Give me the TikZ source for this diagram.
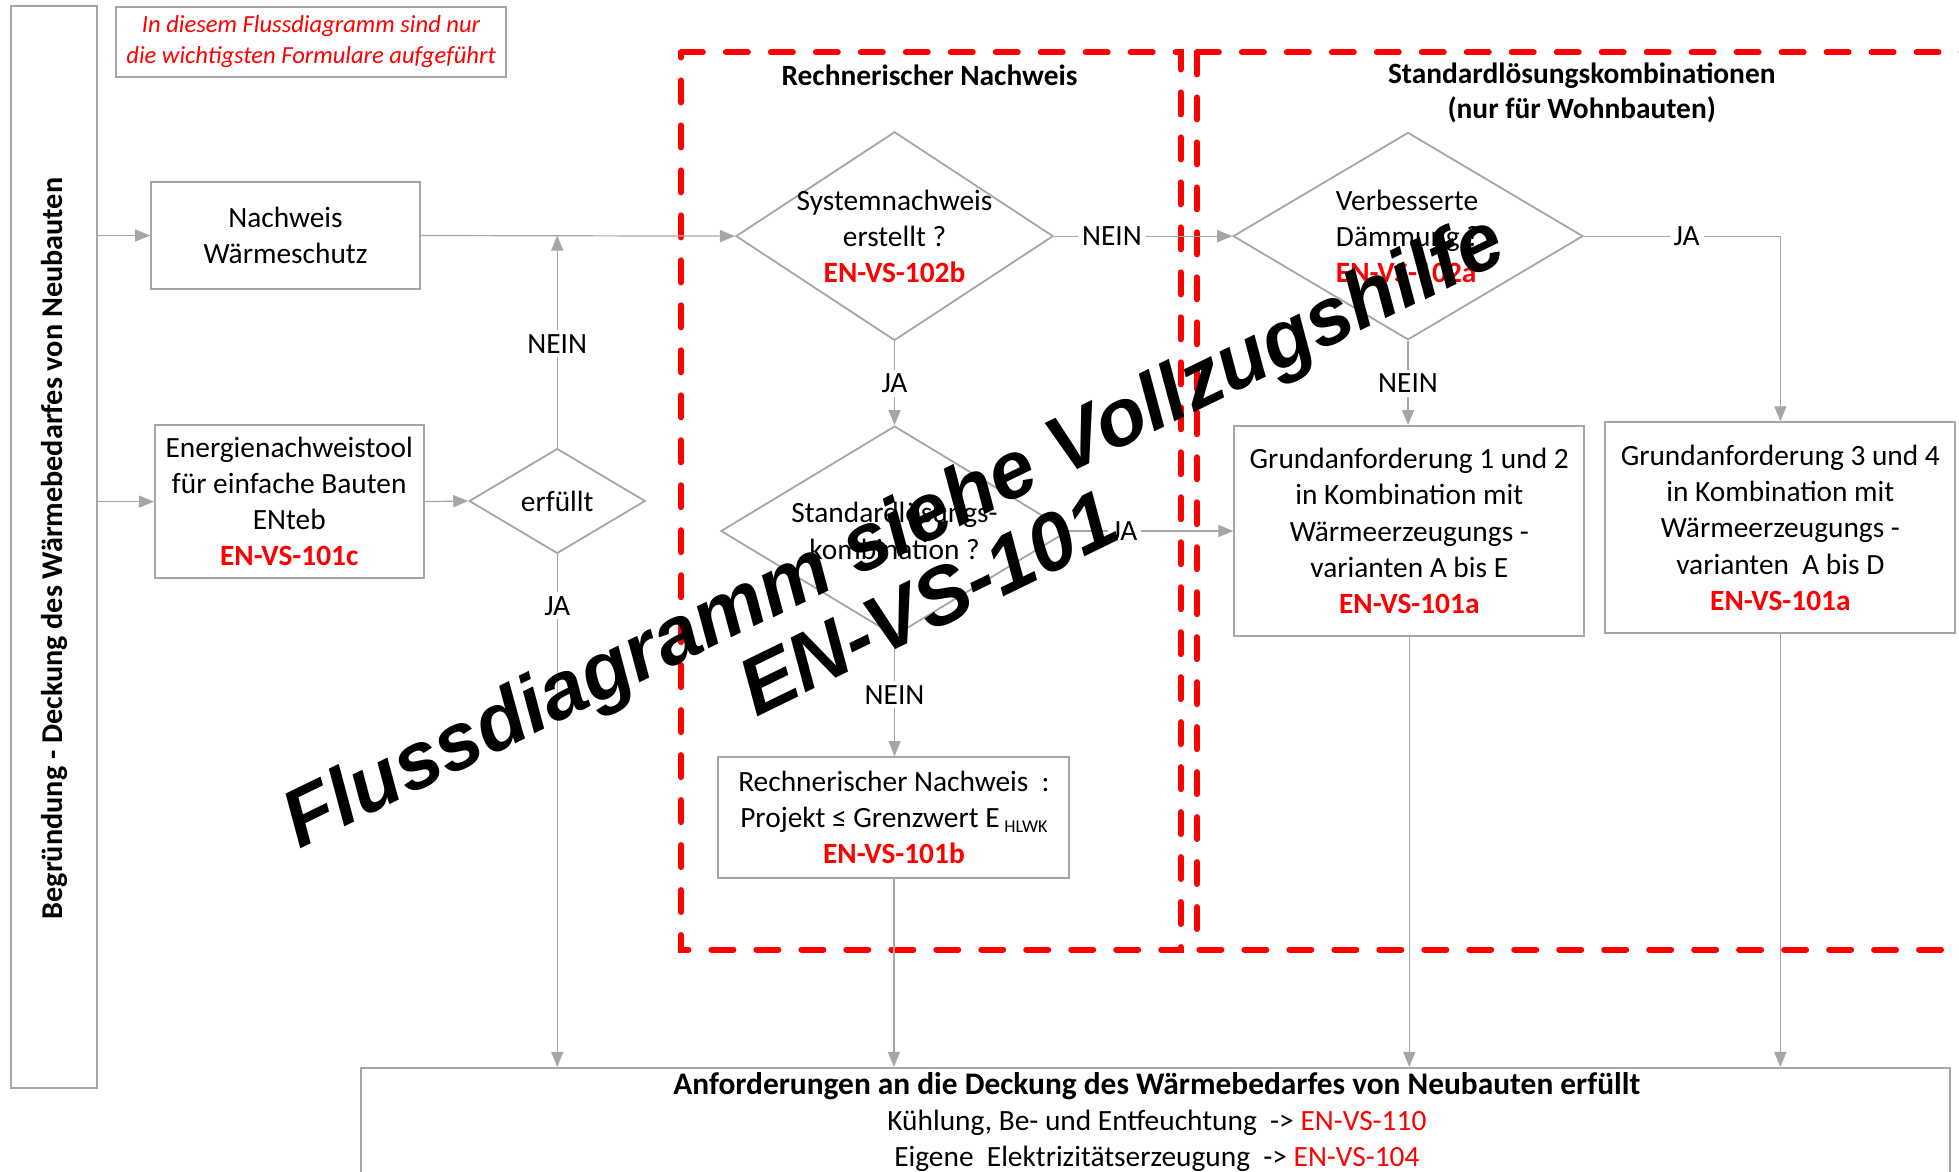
\documentclass[tikz,border=0pt]{standalone}
\usepackage{fontspec}
\setmainfont{Carlito}
\newfontfamily\wmfont{Liberation Sans}
\usetikzlibrary{arrows.meta,shapes.geometric}
\definecolor{lg}{HTML}{A6A6A6}
\definecolor{rd}{HTML}{FF0000}
\newcommand\bodyfs{\fontsize{14.7}{18.1}\selectfont}
\newcommand\enref[1]{\textcolor{rd}{\bfseries #1}}
\begin{document}
\begin{tikzpicture}[x=0.625pt,y=-0.625pt,
  box/.style={draw=lg,line width=1pt,inner sep=0pt,align=center,font=\bodyfs},
  dia/.style={draw=lg,line width=0.9pt,diamond,inner sep=0pt},
  dtext/.style={align=center,font=\bodyfs,inner sep=0pt},
  conn/.style={draw=lg,line width=0.6pt},
  arr/.style={conn,-{Triangle[length=7.5pt,width=6pt,fill=lg]}},
  lbl/.style={fill=white,inner sep=2pt,font=\bodyfs},
  reddash/.style={draw=rd,line width=3pt,dash pattern=on 11pt off 11.5pt,line cap=round}
]
\useasboundingbox (0,0) rectangle (1568,938);
\fill[white] (0,0) rectangle (1568,938);

% red dashed frames
\draw[reddash] (545,42) -- (945,42) -- (945,760) -- (545,760) -- cycle;
\draw[reddash] (958,42) -- (1600,42);
\draw[reddash] (958,42) -- (958,760) -- (1600,760);

% titles
\node[font=\bodyfs\bfseries] (T1) at (744,60) {Rechnerischer Nachweis};
\node[font=\bfseries\fontsize{14.7}{17.5}\selectfont,align=center] (T2) at (1266,74) {Standardlösungskombinationen\\(nur für Wohnbauten)};

% left column
\node[box,minimum width=43.1pt,minimum height=541.25pt] (L) at (43.5,438) {};
\node[rotate=90,font=\bfseries\fontsize{15.1}{17}\selectfont] (Lt) at (43.5,439) {Begründung - Deckung des Wärmebedarfes von Neubauten};

% note
\node[box,minimum width=195pt,minimum height=35pt,font=\itshape\fontsize{12.3}{15.6}\selectfont,text=rd] (N) at (249,33.5) {In diesem Flussdiagramm sind nur\\die wichtigsten Formulare aufgeführt};

% boxes
\node[box,minimum width=134.4pt,minimum height=53.1pt] (A) at (228.5,188.5) {Nachweis\\Wärmeschutz};
\node[box,minimum width=134.4pt,minimum height=76.9pt] (B) at (231.5,401.5) {Energienachweistool\\für einfache Bauten\\ENteb\\\enref{EN-VS-101c}};
\node[box,minimum width=175.6pt,minimum height=60.6pt] (C) at (715.5,654.5) {Rechnerischer Nachweis~~:\\Projekt ≤ Grenzwert E\,{\fontsize{9}{9}\selectfont\raisebox{-2.5pt}{HLWK}}\\\enref{EN-VS-101b}};
\node[box,minimum width=175pt,minimum height=105pt] (G1) at (1128,425) {Grundanforderung 1 und 2\\in Kombination mit\\Wärmeerzeugungs -\\varianten A bis E\\\enref{EN-VS-101a}};
\node[box,minimum width=175pt,minimum height=105.6pt] (G2) at (1425,422.5) {Grundanforderung 3 und 4\\in Kombination mit\\Wärmeerzeugungs -\\varianten~~A bis D\\\enref{EN-VS-101a}};
\node[box,minimum width=795pt,minimum height=75pt,anchor=north] (Z) at (925,854) {};
\node[dtext] (Zt) at (926,898) {{\fontsize{15.7}{18.1}\selectfont\bfseries Anforderungen an die Deckung des Wärmebedarfes von Neubauten erfüllt}\\Kühlung,\ Be- und Entfeuchtung\ \ -> \textcolor{rd}{EN-VS-110}\\Eigene\ \ Elektrizitätserzeugung\ \ -> \textcolor{rd}{EN-VS-104}};

% diamonds
\node[dia,minimum width=88.1pt,minimum height=52.5pt] (D1) at (446,401) {};
\node[dtext] (D1t) at (D1) {erfüllt};
\node[dia,minimum width=158.75pt,minimum height=104.4pt] (D2) at (716,189) {};
\node[dtext] (D2t) at (716,189) {Systemnachweis\\erstellt ?\\\enref{EN-VS-102b}};
\node[dia,minimum width=175pt,minimum height=103.75pt] (D3) at (1127,189) {};
\node[dtext,align=left,anchor=west] (D3t) at (1069,189) {Verbesserte\\Dämmung ?\\\enref{EN-VS-102a}};
\node[dia,minimum width=173.75pt,minimum height=105pt] (D4) at (716,425) {};
\node[dtext] (D4t) at (716,425) {Standardlösungs-\\kombination ?};

% connectors
\draw[arr] (L.east |- A) -- (A.west);
\draw[arr] (L.east |- B) -- (B.west);
\draw[arr] (B.east) -- (D1.west);
\draw[arr] (A.east) -- (D2.west);
\draw[arr] (D1.north) -- (D1.north |- A.east);
\draw[arr] (D1.south) -- (D1.south |- Z.north);
\draw[arr] (D2.east) -- (D3.west);
\draw[arr] (D2.south) -- (D4.north);
\draw[arr] (D4.east) -- (G1.west);
\draw[arr] (D4.south) -- (D4.south |- C.north);
\draw[arr] (D3.south) -- (D3.south |- G1.north);
\draw[arr] (D3.east) -| (G2.north);
\draw[arr] (C.south) -- (C.south |- Z.north);
\draw[arr] (G1.south) -- (G1.south |- Z.north);
\draw[arr] (G2.south) -- (G2.south |- Z.north);

% labels
\node[lbl] (l1) at (446,275) {NEIN};
\node[lbl] (l2) at (446,485) {JA};
\node[lbl] (l3) at (716,307) {JA};
\node[lbl] (l4) at (890,189) {NEIN};
\node[lbl] (l5) at (1127,307) {NEIN};
\node[lbl] (l6) at (1350,189) {JA};
\node[lbl] (l7) at (900,425) {JA};
\node[lbl] (l8) at (716,556) {NEIN};

% watermark
\node[rotate=26,align=center,font=\wmfont\bfseries\itshape\fontsize{40.5}{41}\selectfont] (W) at (728,452) {Flussdiagramm siehe Vollzugshilfe\\EN-VS-101};
\end{tikzpicture}
\end{document}
